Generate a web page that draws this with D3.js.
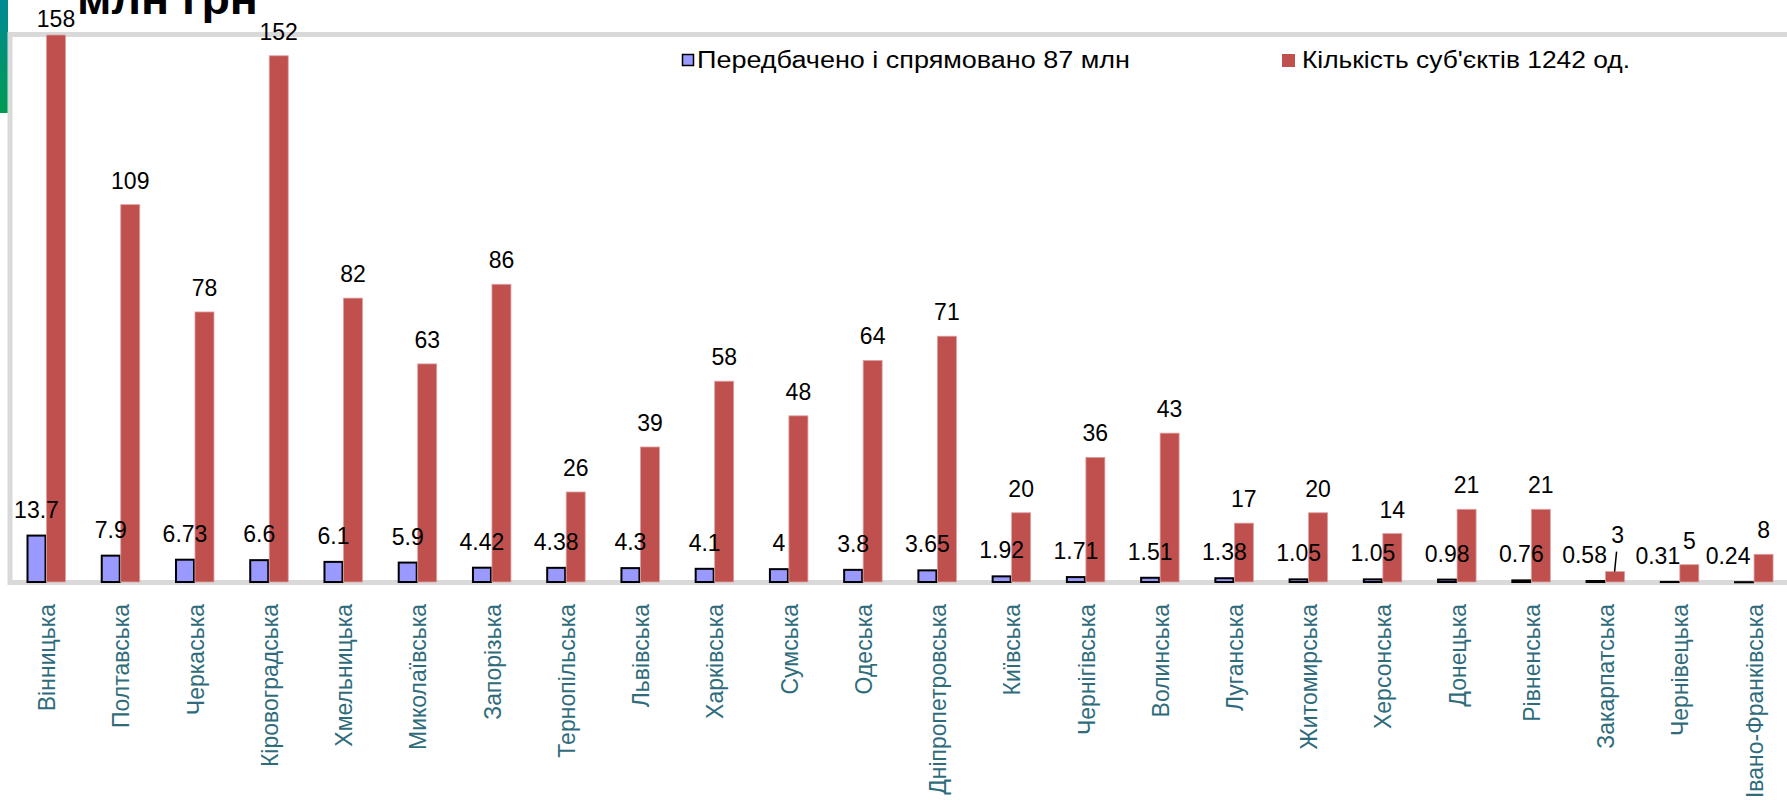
<!DOCTYPE html>
<html>
  <head>
    <meta charset="utf-8" />
    <title>bar chart</title>
    <script src="https://d3js.org/d3.v7.min.js"></script>
    <style>
      body {
        margin: 0;
        background: #fff;
      }
      text {
        font-family: "Liberation Sans", Arial, sans-serif;
      }
    </style>
  </head>
  <body>

    <svg id="chart"></svg>

    <script>

      var regions = ["Вінницька", "Полтавська", "Черкаська", "Кіровоградська", "Хмельницька",
        "Миколаївська", "Запорізька", "Тернопільська", "Львівська", "Харківська", "Сумська",
        "Одеська", "Дніпропетровська", "Київська", "Чернігівська", "Волинська", "Луганська",
        "Житомирська", "Херсонська", "Донецька", "Рівненська", "Закарпатська", "Чернівецька",
        "Івано-Франківська"];

      var funds = [13.7, 7.9, 6.73, 6.6, 6.1, 5.9, 4.42, 4.38, 4.3, 4.1, 4, 3.8, 3.65,
        1.92, 1.71, 1.51, 1.38, 1.05, 1.05, 0.98, 0.76, 0.58, 0.31, 0.24];

      var subjects = [158, 109, 78, 152, 82, 63, 86, 26, 39, 58, 48, 64, 71,
        20, 36, 43, 17, 20, 14, 21, 21, 3, 5, 8];

      var seriesNames = ["Передбачено і спрямовано 87 млн", "Кількість суб'єктів 1242 од."];
      var title = "млн грн";

      // hand-moved labels in the original
      var fundNudge = { "Закарпатська": -11, "Чернівецька": -12, "Івано-Франківська": -16 };
      var subjNudge = { "Закарпатська": -13 };

      var width = 1787;
      var height = 806;
      var baseY = 582;

      var svg = d3.select("#chart")
        .attr("width", width)
        .attr("height", height);

      var x = d3.scaleBand()
        .domain(regions)
        .range([9.5, 1791.3]);

      var y = d3.scaleLinear()
        .domain([0, 160])
        .range([baseY, baseY - 3.462 * 160]);

      var blueX = function(d) { return x(d) + 17; };
      var redX = function(d) { return x(d) + 37; };

      // side accent
      var grad = svg.append("defs").append("linearGradient")
        .attr("id", "accent").attr("x1", 0).attr("y1", 0).attr("x2", 0).attr("y2", 1);
      grad.append("stop").attr("offset", "0%").attr("stop-color", "#008a96");
      grad.append("stop").attr("offset", "100%").attr("stop-color", "#009a52");
      svg.append("rect")
        .attr("x", 0).attr("y", 0).attr("width", 8).attr("height", 113)
        .attr("fill", "url(#accent)");

      // title (cut off at the top in the original)
      svg.append("text")
        .attr("x", 77)
        .attr("y", 14)
        .attr("font-size", 44)
        .attr("font-weight", "bold")
        .attr("textLength", 181)
        .attr("lengthAdjust", "spacingAndGlyphs")
        .text(title);

      // plot frame
      var frame = svg.append("g").attr("stroke", "#d9d9d9").attr("stroke-width", 5);
      frame.append("line").attr("x1", 8).attr("x2", width).attr("y1", 34.5).attr("y2", 34.5);
      frame.append("line").attr("x1", 10).attr("x2", 10).attr("y1", 32).attr("y2", 585);
      frame.append("line").attr("x1", 8).attr("x2", width).attr("y1", 582.5).attr("y2", 582.5);

      // bars
      svg.append("g").selectAll("rect")
        .data(regions)
        .enter().append("rect")
        .attr("x", function(d) { return blueX(d) + 1; })
        .attr("width", 18)
        .attr("y", function(d, i) { return y(funds[i]) + 1; })
        .attr("height", function(d, i) { return Math.max(baseY - y(funds[i]) - 1, 0.1); })
        .attr("fill", "#9999ff")
        .attr("stroke", "#000")
        .attr("stroke-width", 2);

      svg.append("g").selectAll("rect")
        .data(regions)
        .enter().append("rect")
        .attr("x", function(d) { return redX(d); })
        .attr("width", 19)
        .attr("y", function(d, i) { return y(subjects[i]); })
        .attr("height", function(d, i) { return baseY - y(subjects[i]); })
        .attr("fill", "#c0504d")
        .attr("stroke", "#dba2a1")
        .attr("stroke-width", 0.8);

      // value labels
      svg.append("g").selectAll("text")
        .data(regions)
        .enter().append("text")
        .attr("x", function(d) { return blueX(d) + 10 + (fundNudge[d] || 0); })
        .attr("y", function(d, i) { return y(funds[i]) - 17; })
        .attr("text-anchor", "middle")
        .attr("font-size", 23)
        .text(function(d, i) { return funds[i]; });

      svg.append("g").selectAll("text")
        .data(regions)
        .enter().append("text")
        .attr("x", function(d) { return redX(d) + 9.5 + (subjNudge[d] ? 2.5 : 0); })
        .attr("y", function(d, i) { return Math.max(y(subjects[i]) - 16 + (subjNudge[d] || 0), 27); })
        .attr("text-anchor", "middle")
        .attr("font-size", 23)
        .text(function(d, i) { return subjects[i]; });

      // leader lines for moved labels
      svg.append("g").selectAll("line")
        .data(regions.filter(function(d) { return subjNudge[d]; }))
        .enter().append("line")
        .attr("x1", function(d) { return redX(d) + 9; })
        .attr("y1", function(d) { return y(subjects[regions.indexOf(d)]); })
        .attr("x2", function(d) { return redX(d) + 11; })
        .attr("y2", function(d) { return y(subjects[regions.indexOf(d)]) - 20; })
        .attr("stroke", "#000")
        .attr("stroke-width", 1.5);

      // category labels
      svg.append("g").selectAll("text")
        .data(regions)
        .enter().append("text")
        .attr("transform", function(d) {
          return "translate(" + (x(d) + x.bandwidth() / 2 + 8.5) + ",604) rotate(-90)";
        })
        .attr("text-anchor", "end")
        .attr("font-size", 23)
        .attr("fill", "#2f6c7b")
        .text(function(d) { return d; });

      // legend
      var legend = svg.append("g");
      legend.append("rect")
        .attr("x", 682.5).attr("y", 54.5).attr("width", 11).attr("height", 11)
        .attr("fill", "#9999ff").attr("stroke", "#000").attr("stroke-width", 1.5);
      legend.append("text")
        .attr("x", 697).attr("y", 68)
        .attr("font-size", 23)
        .attr("textLength", 433)
        .attr("lengthAdjust", "spacingAndGlyphs")
        .text(seriesNames[0]);
      legend.append("rect")
        .attr("x", 1282).attr("y", 54).attr("width", 13).attr("height", 13)
        .attr("fill", "#c0504d");
      legend.append("text")
        .attr("x", 1302).attr("y", 68)
        .attr("font-size", 23)
        .attr("textLength", 328)
        .attr("lengthAdjust", "spacingAndGlyphs")
        .text(seriesNames[1]);

    </script>

  </body>
</html>
